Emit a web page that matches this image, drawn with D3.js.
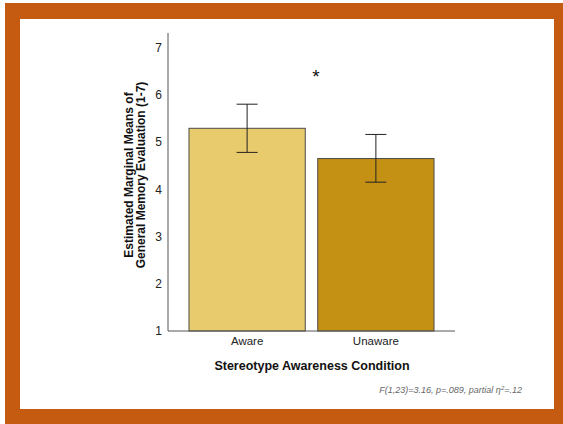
<!DOCTYPE html>
<html>
<head>
<meta charset="utf-8">
<script src="https://cdn.jsdelivr.net/npm/d3@7"></script>
<style>
  html, body { margin: 0; padding: 0; background: #fff; }
  svg { display: block; }
</style>
</head>
<body>
<svg id="chart" width="563" height="424"></svg>
<script>
// Estimated marginal means by stereotype awareness condition
const categories = ["Aware", "Unaware"];
const means = [5.29, 4.65];
const ciLow = [4.78, 4.15];
const ciHigh = [5.80, 5.16];
const yTicks = [1, 2, 3, 4, 5, 6, 7];
const barColors = ["#E8CB6D", "#C49115"];

const svg = d3.select("#chart");

// Orange frame with white panel
svg.append("rect").attr("x", 5).attr("y", 3).attr("width", 558).attr("height", 421).attr("fill", "#C55A11");
svg.append("rect").attr("x", 20).attr("y", 19).attr("width", 534).attr("height", 390).attr("fill", "#FFFFFF");

const left = 168, right = 455;
const y = d3.scaleLinear().domain([1, 7]).range([331, 47.5]);
const x = d3.scaleBand().domain(categories).range([left, right]).paddingInner(0.097).paddingOuter(0.163);

const font = "Liberation Sans, Arial, sans-serif";
const g = svg.append("g");

// Bars
g.selectAll("rect.bar").data(categories).join("rect")
  .attr("class", "bar")
  .attr("x", d => x(d))
  .attr("y", (d, i) => y(means[i]))
  .attr("width", x.bandwidth())
  .attr("height", (d, i) => y(1) - y(means[i]))
  .attr("fill", (d, i) => barColors[i])
  .attr("stroke", "#4a4a4a")
  .attr("stroke-width", 1);

// Error bars
const capW = 21;
categories.forEach((c, i) => {
  const cx = x(c) + x.bandwidth() / 2;
  const eg = g.append("g").attr("stroke", "#222").attr("stroke-width", 1);
  eg.append("line").attr("x1", cx).attr("x2", cx).attr("y1", y(ciHigh[i])).attr("y2", y(ciLow[i]));
  eg.append("line").attr("x1", cx - capW / 2).attr("x2", cx + capW / 2).attr("y1", y(ciHigh[i])).attr("y2", y(ciHigh[i]));
  eg.append("line").attr("x1", cx - capW / 2).attr("x2", cx + capW / 2).attr("y1", y(ciLow[i])).attr("y2", y(ciLow[i]));
});

// Y axis (labels only, no tick marks)
const yAxis = d3.axisLeft(y).tickValues(yTicks).tickFormat(d3.format("d")).tickSize(0).tickPadding(6);
const ya = g.append("g").attr("transform", `translate(${left},0)`).call(yAxis);
ya.select(".domain").remove();
ya.selectAll("text").attr("font-family", font).attr("font-size", 12).attr("fill", "#222");
g.append("line").attr("x1", left).attr("x2", left).attr("y1", 33).attr("y2", y(1))
  .attr("stroke", "#555").attr("stroke-width", 1);

// X axis
const xAxis = d3.axisBottom(x).tickSize(0).tickPadding(6);
const xa = g.append("g").attr("transform", `translate(0,${y(1)})`).call(xAxis);
xa.select(".domain").remove();
xa.selectAll("text").attr("font-family", font).attr("font-size", 11.5).attr("fill", "#222");
g.append("line").attr("x1", left).attr("x2", right).attr("y1", y(1)).attr("y2", y(1))
  .attr("stroke", "#555").attr("stroke-width", 1);

// Axis titles
svg.append("text").attr("x", 312).attr("y", 370)
  .attr("text-anchor", "middle").attr("font-family", font).attr("font-size", 12.5)
  .attr("font-weight", "bold").attr("fill", "#111").text("Stereotype Awareness Condition");

const yt = svg.append("text").attr("transform", "translate(0,175) rotate(-90)")
  .attr("text-anchor", "middle").attr("font-family", font).attr("font-size", 12)
  .attr("font-weight", "bold").attr("fill", "#111");
yt.append("tspan").attr("x", 0).attr("y", 133).text("Estimated Marginal Means of");
yt.append("tspan").attr("x", 0).attr("y", 145).text("General Memory Evaluation (1-7)");

// Significance marker
svg.append("text").attr("x", 316).attr("y", 83).attr("text-anchor", "middle")
  .attr("font-family", font).attr("font-size", 19).attr("fill", "#111").text("*");

// Statistics note
const note = svg.append("text").attr("x", 522).attr("y", 393).attr("text-anchor", "end")
  .attr("font-family", font).attr("font-size", 9).attr("font-style", "italic").attr("fill", "#666");
note.append("tspan").text("F(1,23)=3.16, p=.089, partial η");
note.append("tspan").attr("baseline-shift", "super").attr("font-size", 6).text("2");
note.append("tspan").text("=.12");
</script>
</body>
</html>
